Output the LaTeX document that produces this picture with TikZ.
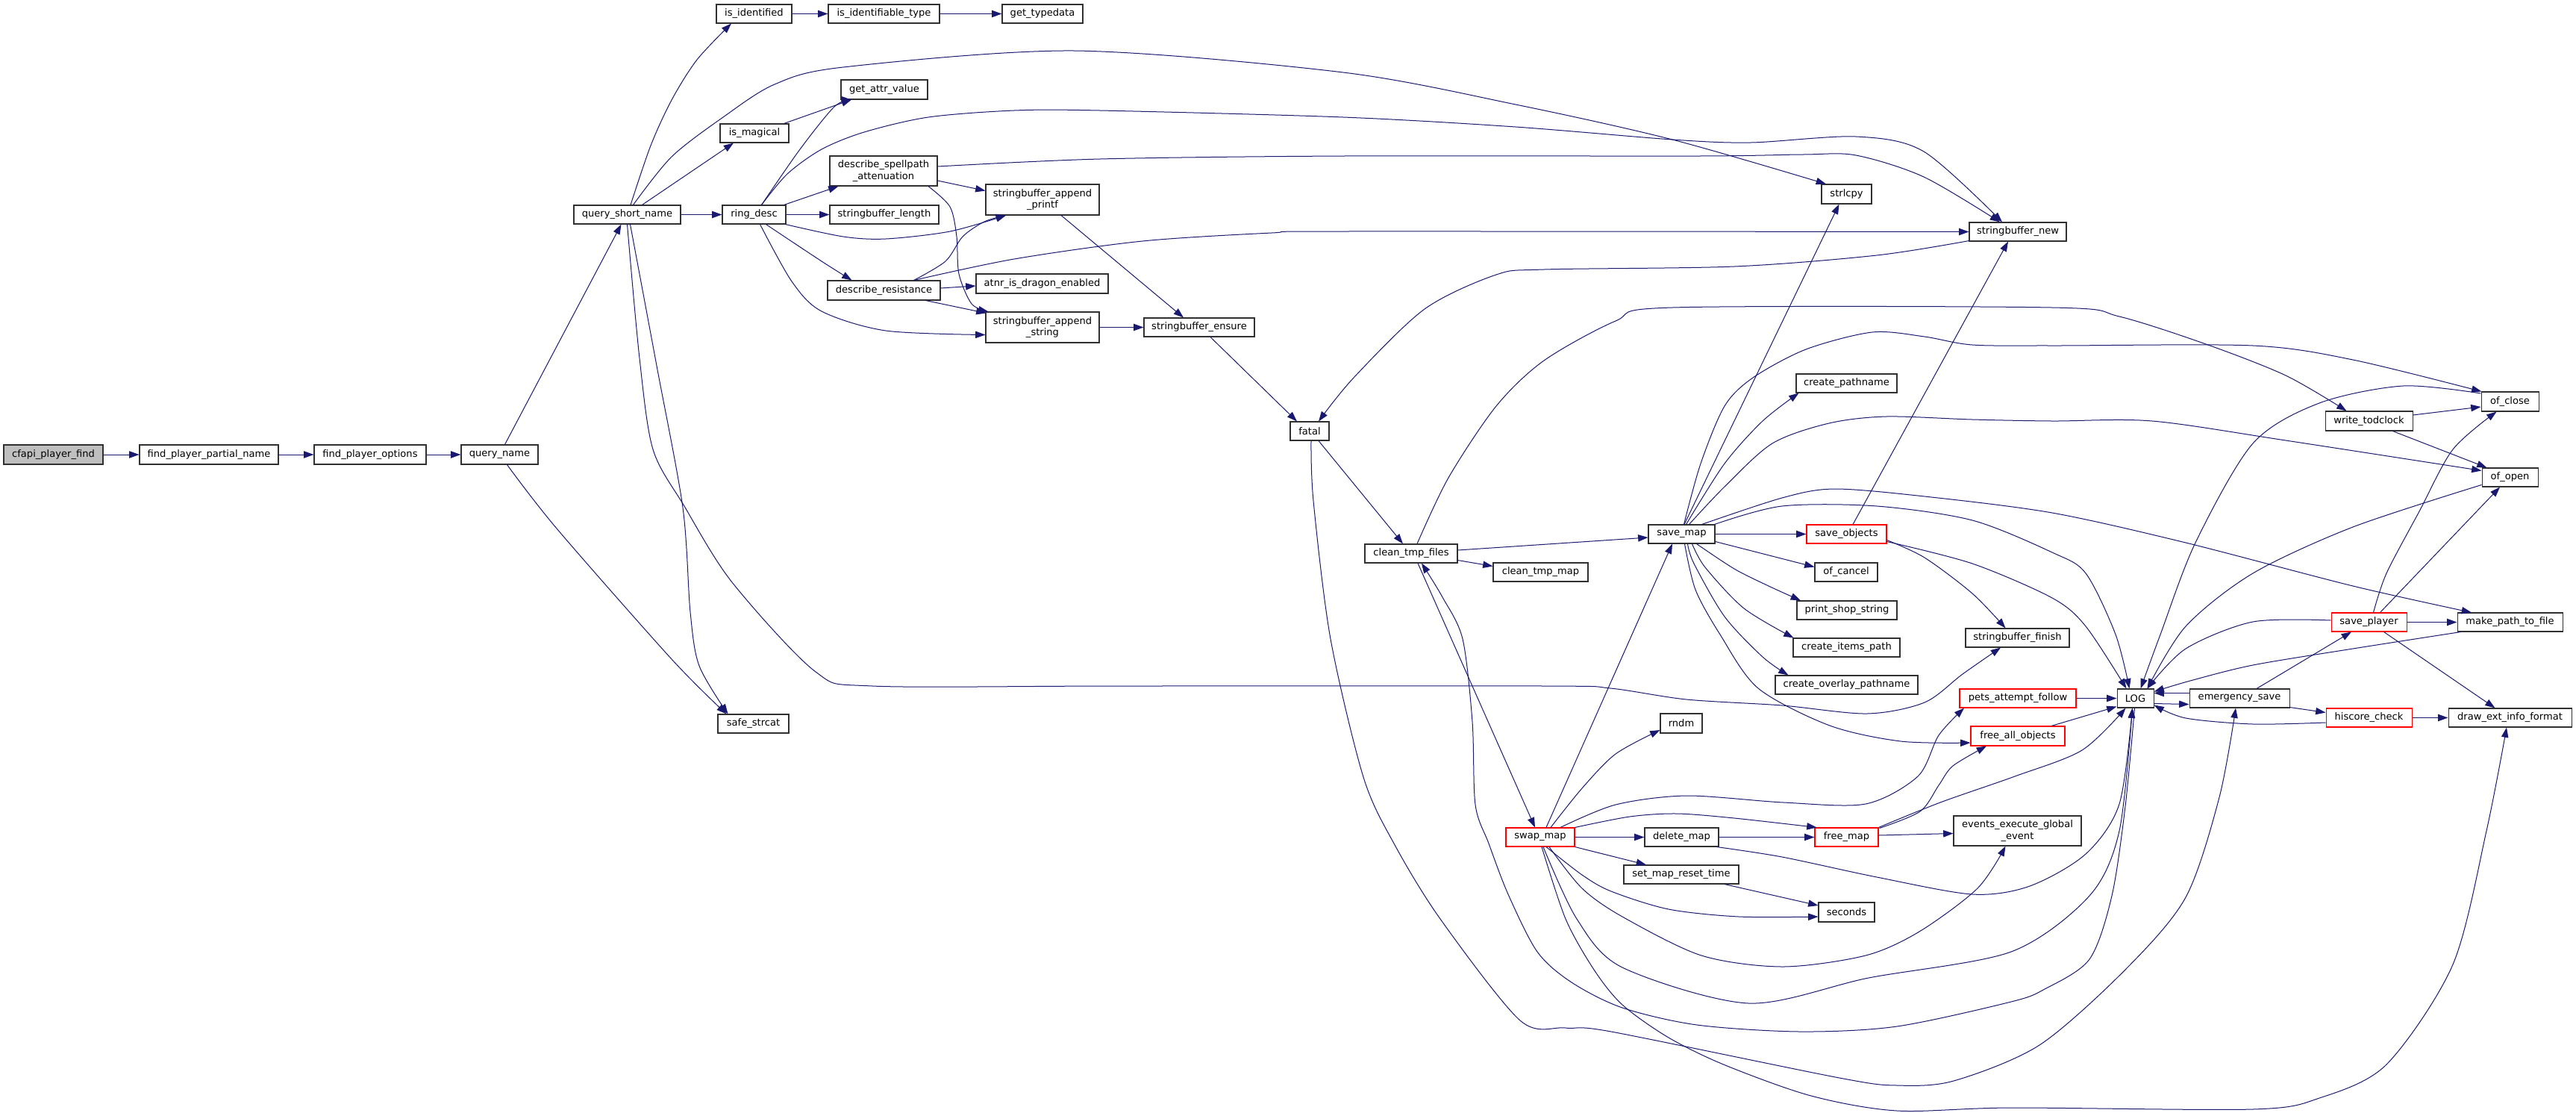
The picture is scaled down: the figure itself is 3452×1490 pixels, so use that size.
\documentclass[tikz,border=0pt]{standalone}
\usepackage{fontspec}
\setmainfont{DejaVu Sans}
\usetikzlibrary{arrows.meta,calc}
\definecolor{edgec}{HTML}{191970}
\definecolor{nodegray}{HTML}{BFBFBF}
\definecolor{nodeborder}{HTML}{303030}
\newcommand{\dxf}{\fontsize{9.8pt}{11.4pt}\selectfont}
\newcommand{\mkbox}[7][]{%
  \pgfmathsetmacro{\bw}{(#5-#3)*0.75}%
  \pgfmathsetmacro{\bh}{(#6-#4)*0.75}%
  \node[box,#1,minimum width=\bw pt,minimum height=\bh pt] (#2) at ({(#3+#5)/2},{(#4+#6)/2}) {#7};}
\begin{document}
\begin{tikzpicture}[x=0.75pt,y=-0.75pt,
  box/.style={draw=nodeborder,line width=0.8pt,fill=white,inner sep=0pt,font=\dxf,align=center},
  edg/.style={draw=edgec,line width=0.75pt,-{Triangle[length=10pt,width=7pt]}}]
\fill[white] (0,0) rectangle (3452,1490);
\useasboundingbox (0,0) rectangle (3452,1490);
% ---------- nodes
\mkbox[fill=nodegray]{cfapi}{5}{596}{138}{622}{cfapi\_player\_find}
\mkbox{fpn}{187}{596}{373}{622}{find\_player\_partial\_name}
\mkbox{fpo}{421}{596}{571}{622}{find\_player\_options}
\mkbox{qn}{618}{596}{721}{622}{query\_name}
\mkbox{qsn}{769}{275}{912}{300}{query\_short\_name}
\mkbox{isid}{960}{6}{1061}{31}{is\_identified}
\mkbox{isit}{1110}{6}{1259}{31}{is\_identifiable\_type}
\mkbox{gtd}{1343}{6}{1451}{31}{get\_typedata}
\mkbox{gav}{1127}{107}{1243}{133}{get\_attr\_value}
\mkbox{ismag}{965}{166}{1057}{191}{is\_magical}
\mkbox{dsa}{1112}{209}{1256}{249}{describe\_spellpath\\\_attenuation}
\mkbox{ring}{968}{275}{1053}{300}{ring\_desc}
\mkbox{sbl}{1112}{275}{1258}{300}{stringbuffer\_length}
\mkbox{sbap}{1321}{247}{1473}{288}{stringbuffer\_append\\\_printf}
\mkbox{dr}{1109}{376}{1260}{402}{describe\_resistance}
\mkbox{atnr}{1308}{367}{1485}{393}{atnr\_is\_dragon\_enabled}
\mkbox{sbas}{1321}{418}{1473}{459}{stringbuffer\_append\\\_string}
\mkbox{sbe}{1533}{426}{1681}{451}{stringbuffer\_ensure}
\mkbox{safe}{962}{957}{1057}{982}{safe\_strcat}
\mkbox{sl}{2441}{247}{2508}{273}{strlcpy}
\mkbox{sbn}{2639}{298}{2769}{323}{stringbuffer\_new}
\mkbox{fatal}{1729}{565}{1781}{590}{fatal}
\mkbox{ctf}{1829}{729}{1953}{754}{clean\_tmp\_files}
\mkbox{ctm}{2001}{754}{2128}{779}{clean\_tmp\_map}
\mkbox{sm}{2209}{703}{2298}{728}{save\_map}
\mkbox[draw=red]{so}{2421}{703}{2528}{728}{save\_objects}
\mkbox{ocn}{2432}{754}{2516}{779}{of\_cancel}
\mkbox{cpn}{2407}{501}{2542}{526}{create\_pathname}
\mkbox{pss}{2408}{805}{2542}{830}{print\_shop\_string}
\mkbox{cip}{2403}{855}{2546}{880}{create\_items\_path}
\mkbox{cop}{2379}{905}{2570}{930}{create\_overlay\_pathname}
\mkbox{sbf}{2634}{842}{2773}{867}{stringbuffer\_finish}
\mkbox[draw=red]{pets}{2626}{923}{2782}{948}{pets\_attempt\_follow}
\mkbox[draw=red]{fao}{2641}{973}{2767}{999}{free\_all\_objects}
\mkbox{rndm}{2225}{956}{2281}{982}{rndm}
\mkbox[draw=red]{swm}{2018}{1109}{2110}{1134}{swap\_map}
\mkbox{dm}{2204}{1109}{2303}{1134}{delete\_map}
\mkbox[draw=red]{fm}{2432}{1109}{2517}{1134}{free\_map}
\mkbox{ev}{2618}{1093}{2789}{1133}{events\_execute\_global\\\_event}
\mkbox{smrt}{2176}{1159}{2330}{1184}{set\_map\_reset\_time}
\mkbox{sec}{2437}{1209}{2512}{1235}{seconds}
\mkbox{LOG}{2837}{923}{2886}{948}{LOG}
\mkbox{es}{2934}{923}{3068}{948}{emergency\_save}
\mkbox[draw=red]{hc}{3117}{949}{3232}{974}{hiscore\_check}
\mkbox{dei}{3281}{949}{3446}{974}{draw\_ext\_info\_format}
\mkbox[draw=red]{sp}{3124}{821}{3225}{846}{save\_player}
\mkbox{mptf}{3293}{821}{3434}{846}{make\_path\_to\_file}
\mkbox{ofc}{3325}{525}{3402}{551}{of\_close}
\mkbox{wtc}{3116}{551}{3233}{577}{write\_todclock}
\mkbox{ofo}{3326}{627}{3401}{652}{of\_open}
% ---------- straight edges
\draw[edg] (cfapi) -- (fpn);
\draw[edg] (fpn) -- (fpo);
\draw[edg] (fpo) -- (qn);
\draw[edg] ($(qn.north)+(7,0)$) -- ($(qsn.south)+(-8,0)$);
\draw[edg] (qsn) -- (ring);
\draw[edg] ($(qsn.north)+(20,0)$) -- ($(ismag.south)+(-28,0)$);
\draw[edg] ($(ismag.north east)+(-7,0)$) -- ($(gav.south)+(-44,0)$);
\draw[edg] (isid) -- (isit);
\draw[edg] (isit) -- (gtd);
\draw[edg] ($(ring.north east)+(-3,0)$) -- ($(dsa.south west)+(12,0)$);
\draw[edg] (ring) -- (sbl);
\draw[edg] ($(dsa.east)+(0,13)$) -- ($(sbap.west)+(0,-12)$);
\draw[edg] ($(dr.east)+(0,-3)$) -- ($(atnr.west)+(0,3)$);
\draw[edg] ($(dr.south)+(56,0)$) -- ($(sbas.north west)+(1,2)$);
\draw[edg] (sbas) -- (sbe);
\draw[edg] ($(sbap.south)+(25,0)$) -- ($(sbe.north)+(-21,0)$);
\draw[edg] ($(sbe.south)+(15,0)$) -- ($(fatal.north)+(-17,0)$);
\draw[edg] ($(fatal.south)+(12,0)$) -- ($(ctf.north)+(-11,0)$);
\draw[edg] ($(ctf.east)+(0,9)$) -- ($(ctm.west)+(0,-8)$);
\draw[edg] ($(ctf.east)+(0,-4.5)$) -- ($(sm.west)+(0,4.5)$);
\draw[edg] ($(ctf.south)+(9,0)$) -- ($(swm.north)+(-7,0)$);
\draw[edg] ($(swm.north)+(8,0)$) -- ($(sm.south)+(-12.5,0)$);
\draw[edg] (sm) -- (so);
\draw[edg] ($(sm.east)+(0,10)$) -- ($(ocn.west)+(0,-7)$);
\draw[edg] ($(sm.north)+(3.5,0)$) -- ($(sl.south)+(-10,0)$);
\draw[edg] ($(so.north)+(8.5,0)$) -- ($(sbn.south)+(-13,0)$);
\draw[edg] (swm) -- (dm);
\draw[edg] (dm) -- (fm);
\draw[edg] (swm.south east) -- ($(smrt.north)+(-47,0)$);
\draw[edg] ($(smrt.south)+(58,0)$) -- ($(sec.west)+(0,-9)$);
\draw[edg] ($(fm.east)+(0,-2.5)$) -- ($(ev.west)+(0,3.5)$);
\draw[edg] (pets) -- (LOG);
\draw[edg] ($(fao.north)+(45,0)$) -- ($(LOG.west)+(0,11)$);
\draw[edg] ($(es.west)+(0,-7)$) -- ($(LOG.east)+(0,-7)$);
\draw[edg] ($(LOG.east)+(0,7)$) -- ($(es.west)+(0,8)$);
\draw[edg] ($(es.north)+(23,0)$) -- ($(sp.south)+(-23.5,0)$);
\draw[edg] ($(es.east)+(0,12)$) -- ($(hc.west)+(0,-7)$);
\draw[edg] (hc) -- (dei);
\draw[edg] (sp) -- (mptf);
\draw[edg] ($(sp.south)+(20,0)$) -- ($(dei.north)+(-20,0)$);
\draw[edg] ($(sp.north)+(15,0)$) -- ($(ofo.south)+(-13.5,0)$);
\draw[edg] ($(wtc.east)+(0,-8)$) -- ($(ofc.west)+(0,7)$);
\draw[edg] ($(wtc.south)+(32,0)$) -- ($(ofo.north)+(-31,0)$);
% ---------- curved edges
\draw[edg] plot[smooth] coordinates {($(qn.south)+(10,0)$) (746,708) (900,883) ($(safe.north)+(-36,0)$)};
\draw[edg] plot[smooth] coordinates {($(qsn.south)+(4,0)$) (880,490) (915,680) (925,820) (937,892) ($(safe.north)+(-34,0)$)};
\draw[edg] plot[smooth] coordinates {(qsn.south) (857,480) (875,602) (917,678) (981,780) (1093,900) (1169,919) (1500,919) (2070,919) (2158,922) (2260,937) (2388,945) (2502,956) (2579,941) (2630,903) ($(sbf.south)+(-22.5,0)$)};
\draw[edg] plot[smooth] coordinates {($(qsn.north)+(4.5,0)$) (872,195) (900,134) (934,80) ($(isid.south)+(-30.5,0)$)};
\draw[edg] plot[smooth] coordinates {($(qsn.north)+(8,0)$) (900,210) (969,157) (1038,113) (1130,90) (1440,68) (1800,97) (2031,140) (2241,187) ($(sl.north)+(-27.5,0)$)};
\draw[edg] plot[smooth] coordinates {($(ring.north)+(10,0)$) (1072,200) (1118,143) ($(gav.south)+(-44,0)$)};
\draw[edg] plot[smooth] coordinates {($(ring.north)+(10,0)$) (1055,233) (1101,200) (1158,177) (1244,157) (1359,148) (1474,148) (1800,157) (2031,170) (2241,187) (2346,191) (2487,183) (2578,203) ($(sbn.north)+(-21,0)$)};
\draw[edg] plot[smooth] coordinates {($(dsa.east)+(0,-6)$) (1474,213) (1800,209) (2276,209) (2416,207) (2487,208) (2578,237) ($(sbn.north)+(-24,0)$)};
\draw[edg] plot[smooth] coordinates {($(dr.north)+(40,0)$) (1359,347) (1531,323) (1704,312) (1800,310) (sbn.west)};
\draw[edg] plot[smooth] coordinates {($(ring.south east)+(-1,0)$) (1130,317) (1187,320) (1273,310) ($(sbap.south)+(-49,0)$)};
\draw[edg] plot[smooth] coordinates {($(ring.south)+(16,0)$) (1101,350) ($(dr.north)+(-43,0)$)};
\draw[edg] plot[smooth] coordinates {($(ring.south)+(8,0)$) (1061,377) (1101,417) (1187,443) ($(sbas.west)+(0,10)$)};
\draw[edg] plot[smooth] coordinates {($(dsa.south)+(60,0)$) (1273,277) (1282,317) (1285,367) (1302,407) ($(sbas.north west)+(4,0)$)};
\draw[edg] plot[smooth] coordinates {($(dr.north)+(40,0)$) (1267,350) (1290,317) (1319,297) ($(sbap.south)+(-49,0)$)};
\draw[edg] plot[smooth] coordinates {($(sbn.south west)+(0,-1)$) (2515,342) (2324,357) (2069,361) (2005,368) (1909,414) (1814,506) ($(fatal.north)+(12,0)$)};
\draw[edg] plot[smooth] coordinates {($(ctf.north)+(8,0)$) (1941,640) (2005,544) (2069,483) (2165,430) (2241,412) (2750,412) (2840,424) (2956,461) (3063,503) ($(wtc.north)+(-30,0)$)};
\draw[edg] plot[smooth] coordinates {($(sm.north)+(3,0)$) (2279,621) (2311,544) (2349,506) (2420,468) (2509,445) (2579,451) (2643,462) (2750,463) (3019,463) (3153,482) ($(ofc.north west)+(1,0)$)};
\draw[edg] plot[smooth] coordinates {($(sm.north)+(10,0)$) (2311,652) (2375,594) (2451,567) (2528,558) (2643,562) (2750,564) (2884,564) (3063,590) ($(ofo.west)+(0,-9)$)};
\draw[edg] plot[smooth] coordinates {($(sm.north east)+(-18,0)$) (2388,667) (2458,655) (2579,665) (2750,687) (2929,727) (3153,785) ($(mptf.north)+(-51.5,0)$)};
\draw[edg] plot[smooth] coordinates {($(sm.north east)+(-1,0)$) (2388,678) (2515,678) (2643,697) (2750,740) (2795,768) (2835,850) ($(LOG.north)+(-8,0)$)};
\draw[edg] plot[smooth] coordinates {($(sm.north)+(6,0)$) (2311,621) (2362,564) ($(cpn.south)+(-64,0)$)};
\draw[edg] plot[smooth] coordinates {($(sm.south)+(4,0)$) (2272,790) (2305,850) (2356,922) (2452,972) (2547,993) ($(fao.west)+(0,9)$)};
\draw[edg] plot[smooth] coordinates {($(sm.south)+(20,0)$) (2324,762) (2370,785) ($(pss.north)+(-62,0)$)};
\draw[edg] plot[smooth] coordinates {($(sm.south)+(14,0)$) (2285,760) (2337,815) ($(cip.north)+(-71,0)$)};
\draw[edg] plot[smooth] coordinates {($(sm.south)+(8,0)$) (2270,755) (2311,826) (2362,880) ($(cop.north)+(-78,0)$)};
\draw[edg] plot[smooth] coordinates {($(so.east)+(0,8)$) (2579,747) (2643,795) ($(sbf.north)+(-16,0)$)};
\draw[edg] plot[smooth] coordinates {($(so.east)+(0,10)$) (2643,755) (2750,801) (2795,839) ($(LOG.north)+(-12,0)$)};
\draw[edg] plot[smooth] coordinates {($(swm.north)+(27,0)$) (2165,1078) (2260,1066) (2390,1075) (2500,1077) (2570,1040) (2598,985) ($(pets.south)+(-72,0)$)};
\draw[edg] plot[smooth] coordinates {(swm.north east) (2184,1094) (2247,1090) (2324,1096) ($(fm.north)+(-40,0)$)};
\draw[edg] plot[smooth] coordinates {($(swm.north)+(14,0)$) (2120,1056) (2165,1010) ($(rndm.west)+(0,9)$)};
\draw[edg] plot[smooth] coordinates {($(fm.north east)+(1,1)$) (2573,1087) (2598,1052) (2617,1026) ($(fao.south)+(-42,0)$)};
\draw[edg] plot[smooth] coordinates {(fm.north east) (2600,1075) (2700,1040) (2790,1005) ($(LOG.south)+(-13,0)$)};
\draw[edg] plot[smooth] coordinates {($(swm.south)+(8,0)$) (2120,1172) (2159,1194) (2236,1218) (2330,1228) ($(sec.west)+(0,6)$)};
\draw[edg] plot[smooth] coordinates {($(swm.south)+(12,0)$) (2120,1190) (2174,1228) (2280,1280) (2389,1295) (2500,1280) (2572,1248) (2650,1190) ($(ev.south)+(-16,0)$)};
\draw[edg] plot[smooth] coordinates {($(swm.south)+(4,0)$) (2113,1231) (2174,1296) (2343,1344) (2504,1310) (2695,1275) (2800,1200) (2840,1113) ($(LOG.south)+(-4,0)$)};
\draw[edg] plot[smooth] coordinates {($(swm.south)+(2,0)$) (2098,1231) (2136,1299) (2174,1346) (2236,1390) (2312,1427) (2427,1468) (2542,1488) (2695,1484) (3019,1486) (3108,1471) (3198,1426) (3287,1292) (3332,1113) ($(dei.south)+(-4.5,0)$)};
\draw[edg] plot[smooth] coordinates {($(dm.south east)+(-3,0)$) (2388,1148) (2515,1175) (2643,1198) (2720,1187) (2795,1144) (2840,1077) ($(LOG.south)+(-4,0)$)};
\draw[edg] plot[smooth] coordinates {($(LOG.south)+(-1,0)$) (2848,1080) (2830,1200) (2800,1285) (2740,1325) (2695,1342) (2542,1375) (2412,1382) (2274,1373) (2174,1350) (2106,1316) (2060,1275) (2021,1198) (1995,1130) (1977,1078) (1973,967) (1960,856) (1933,800) ($(ctf.south)+(14,0)$)};
\draw[edg] plot[smooth] coordinates {($(fatal.south)+(2,0)$) (1760,671) (1783,856) (1827,1041) (1868,1130) (1930,1231) (2037,1367) (2098,1377) (2159,1382) (2465,1444) (2542,1454) (2618,1448) (2733,1400) (2848,1299) (2929,1202) (2974,1068) ($(es.south)+(-5,0)$)};
\draw[edg] plot[smooth] coordinates {($(hc.west)+(0,6.5)$) (3019,970) (2929,962) ($(LOG.east)+(0,9)$)};
\draw[edg] plot[smooth] coordinates {($(sp.west)+(0,-2.5)$) (3019,833) (2929,869) ($(LOG.north)+(16,0)$)};
\draw[edg] plot[smooth] coordinates {($(mptf.south west)+(5,0)$) (3153,869) (3019,891) (2935,912) ($(LOG.east)+(0,-9)$)};
\draw[edg] plot[smooth] coordinates {($(ofc.west)+(0,-11)$) (3220,517) (3108,540) (3019,594) (2942,727) (2895,850) ($(LOG.north)+(7,0)$)};
\draw[edg] plot[smooth] coordinates {($(ofo.west)+(0,10)$) (3153,706) (3019,768) (2929,839) ($(LOG.north)+(16,0)$)};
\draw[edg] plot[smooth] coordinates {($(sp.north)+(6,0)$) (3198,768) (3242,685) (3287,602) ($(ofc.south)+(-18,0)$)};
\end{tikzpicture}
\end{document}
